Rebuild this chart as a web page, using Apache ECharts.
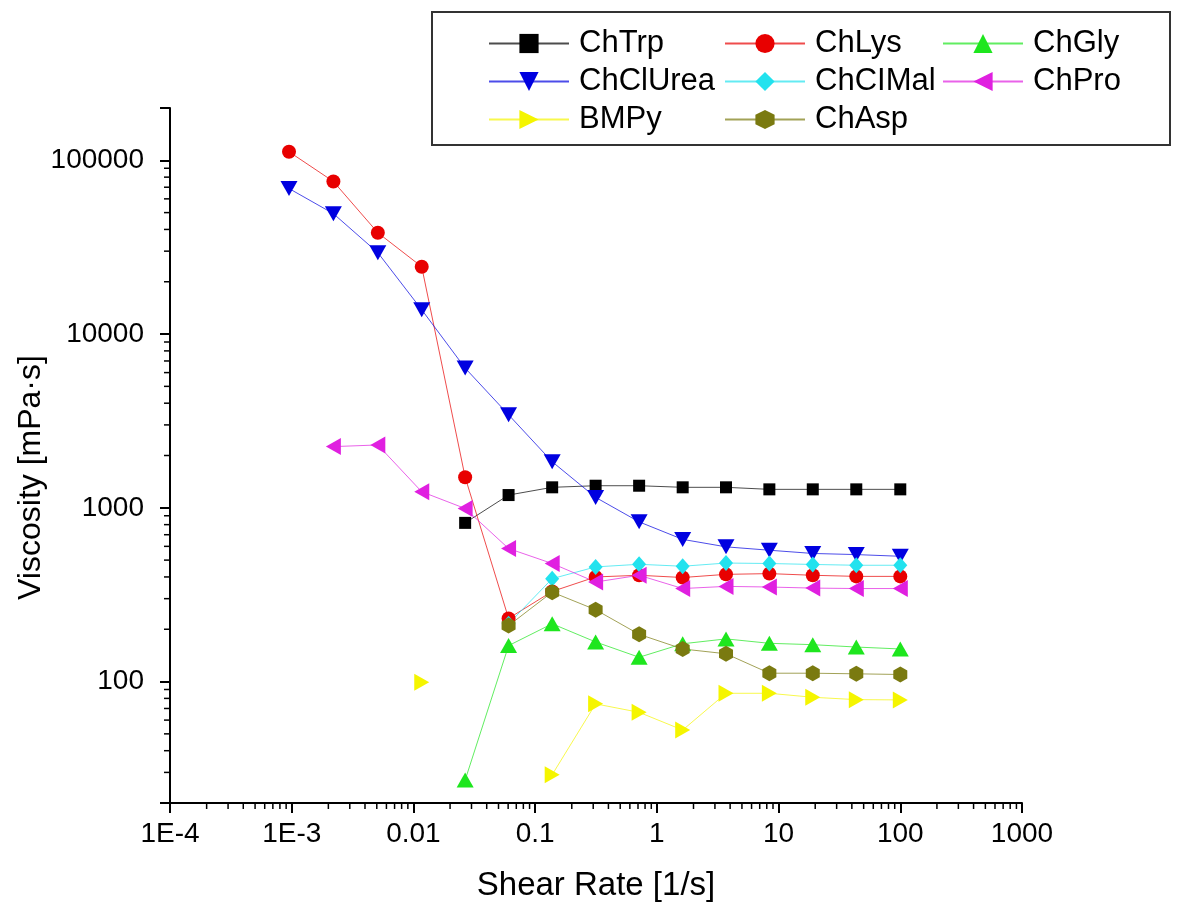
<!DOCTYPE html>
<html><head><meta charset="utf-8">
<script src="https://cdn.jsdelivr.net/npm/echarts@6/dist/echarts.min.js"></script>
<style>html,body{margin:0;padding:0;background:#fff}#c{width:1182px;height:902px}</style>
</head><body><div id="c"></div>
<script>
// Shear rate (1/s) of each measured point
const shearRate = [0.00095, 0.0022, 0.0051, 0.0117, 0.0266, 0.0605, 0.138, 0.314, 0.715, 1.63, 3.7, 8.4, 19.1, 43.5, 100];
// Viscosity (mPa·s) per series, null = no point
const chTrp    = [null, null, null, null, 819, 1184, 1312, 1340, 1340, 1312, 1312, 1277, 1277, 1277, 1277];
const chLys    = [112000, 75500, 38300, 24400, 1500, 231, 330, 400, 409, 397, 414, 418, 409, 403, 403];
const chGly    = [null, null, null, null, 27.1, 161, 215, 169, 138, 165, 176, 166, 163, 158, 154];
const chClUrea = [68800, 49300, 29400, 13800, 6370, 3430, 1842, 1148, 830, 658, 596, 570, 546, 538, 526];
const chClMal  = [null, null, null, null, null, 215, 391, 457, 473, 461, 481, 478, 472, 467, 467];
const chPro    = [null, 2250, 2300, 1237, 991, 583, 478, 374, 409, 343, 353, 350, 345, 343, 343];
const bmpy     = [null, null, null, 99, null, null, 29.1, 74.4, 66.5, 52.6, 85.6, 85.6, 81.2, 78.7, 78.4];
const chAsp    = [null, null, null, null, null, 210, 327, 259, 187, 154, 144.5, 111.7, 111.7, 110.8, 109.8];

const seriesNames = ['ChTrp', 'ChLys', 'ChGly', 'ChClUrea', 'ChCIMal', 'ChPro', 'BMPy', 'ChAsp'];
const seriesValues = [chTrp, chLys, chGly, chClUrea, chClMal, chPro, bmpy, chAsp];
const xTicks = ['1E-4', '1E-3', '0.01', '0.1', '1', '10', '100', '1000'];
const yTicks = ['100', '1000', '10000', '100000'];

const styles = [
  {color: '#000000', symbol: 'rect', size: 12, rot: 0},
  {color: '#E80000', symbol: 'circle', size: 14, rot: 0},
  {color: '#1EE61E', symbol: 'triangle', size: [17, 15], rot: 0},
  {color: '#0000E0', symbol: 'triangle', size: [17, 15], rot: 180},
  {color: '#22E2EE', symbol: 'diamond', size: [14, 16], rot: 0},
  {color: '#E020E0', symbol: 'triangle', size: [17, 15], rot: 90},
  {color: '#F5F500', symbol: 'triangle', size: [17, 15], rot: -90},
  {color: '#7A7A10', symbol: 'path://M0,-1 L0.866,-0.5 L0.866,0.5 L0,1 L-0.866,0.5 L-0.866,-0.5 Z', size: [14, 16], rot: 0}
];

const FONT = '"Liberation Sans", Arial, sans-serif';
const chart = echarts.init(document.getElementById('c'), null, {renderer: 'canvas'});

const series = seriesNames.map((n, i) => ({
  name: n, type: 'line',
  data: shearRate.map((x, j) => [x, seriesValues[i][j] == null ? '-' : seriesValues[i][j]]),
  symbol: styles[i].symbol, symbolSize: styles[i].size, symbolRotate: styles[i].rot,
  showSymbol: true, connectNulls: false,
  itemStyle: {color: styles[i].color, borderWidth: 0},
  lineStyle: {color: styles[i].color, width: 1, opacity: 0.7},
  emphasis: {disabled: true}, animation: false, clip: false
}));

function legendCol(left, names) {
  return {
    orient: 'vertical', left: left, top: 28, padding: 0,
    itemWidth: 80, itemHeight: 24, itemGap: 7,
    data: names,
    textStyle: {fontFamily: FONT, fontSize: 31, color: '#000', lineHeight: 24, padding: [0, 0, 0, 5]}
  };
}

function fmtX(v) {
  const e = Math.round(Math.log10(v));
  const i = e + 4;
  return xTicks[i] !== undefined ? xTicks[i] : '';
}
function fmtY(v) {
  const l = Math.log10(v);
  if (Math.abs(l - Math.round(l)) > 1e-6) return '';
  const i = Math.round(l) - 2;
  return yTicks[i] !== undefined ? yTicks[i] : '';
}

chart.setOption({
  animation: false,
  backgroundColor: '#ffffff',
  grid: {left: 170, right: 160, top: 108, bottom: 99, containLabel: false, outerBoundsMode: 'none'},
  legend: [
    legendCol(488, ['ChTrp', 'ChClUrea', 'BMPy']),
    legendCol(724, ['ChLys', 'ChCIMal', 'ChAsp']),
    legendCol(942, ['ChGly', 'ChPro'])
  ],
  xAxis: {
    type: 'log', logBase: 10, min: 0.0001, max: 1000,
    name: 'Shear Rate [1/s]', nameLocation: 'middle', nameGap: 66,
    nameTextStyle: {fontFamily: FONT, fontSize: 33, color: '#000'},
    axisLine: {show: true, onZero: false, lineStyle: {color: '#000', width: 2}},
    axisTick: {show: true, inside: false, length: 10, lineStyle: {color: '#000', width: 2}},
    minorTick: {show: false},
    splitLine: {show: false},
    axisLabel: {formatter: fmtX, fontFamily: FONT, fontSize: 28, color: '#000', margin: 17, showMinLabel: true, showMaxLabel: true}
  },
  yAxis: {
    type: 'log', logBase: 10, min: 20, max: 200000,
    name: 'Viscosity [mPa·s]', nameLocation: 'middle', nameGap: 123, nameRotate: 90, nameMoveOverlap: false,
    nameTextStyle: {fontFamily: FONT, fontSize: 32, color: '#000', padding: [0, 44, 0, 0]},
    axisLine: {show: true, onZero: false, lineStyle: {color: '#000', width: 2}},
    axisTick: {show: true, inside: false, length: 10, lineStyle: {color: '#000', width: 2}},
    minorTick: {show: false},
    splitLine: {show: false},
    axisLabel: {formatter: fmtY, fontFamily: FONT, fontSize: 28, color: '#000', margin: 26}
  },
  series: series
});

// minor ticks (2..9 per decade), positioned through the axes' own scales
const g = [{type: 'rect', shape: {x: 432, y: 12, width: 738, height: 133}, style: {fill: null, stroke: '#333', lineWidth: 2}, z: 10}];
const yBase = chart.convertToPixel({yAxisIndex: 0}, 20);
const xBase = chart.convertToPixel({xAxisIndex: 0}, 0.0001);
for (let e = -4; e < 3; e++) {
  for (let k = 2; k <= 9; k++) {
    const px = chart.convertToPixel({xAxisIndex: 0}, k * Math.pow(10, e));
    g.push({type: 'line', shape: {x1: px, y1: yBase, x2: px, y2: yBase + 6}, style: {stroke: '#000', lineWidth: 1.5}, silent: true});
  }
}
for (let e = 1; e < 6; e++) {
  for (let k = 1; k <= 9; k++) {
    const v = k * Math.pow(10, e);
    if (v <= 20 || v >= 200000 || k === 1) continue;
    const py = chart.convertToPixel({yAxisIndex: 0}, v);
    g.push({type: 'line', shape: {x1: xBase - 6, y1: py, x2: xBase, y2: py}, style: {stroke: '#000', lineWidth: 1.5}, silent: true});
  }
}
chart.setOption({graphic: g});
</script>
</body></html>
